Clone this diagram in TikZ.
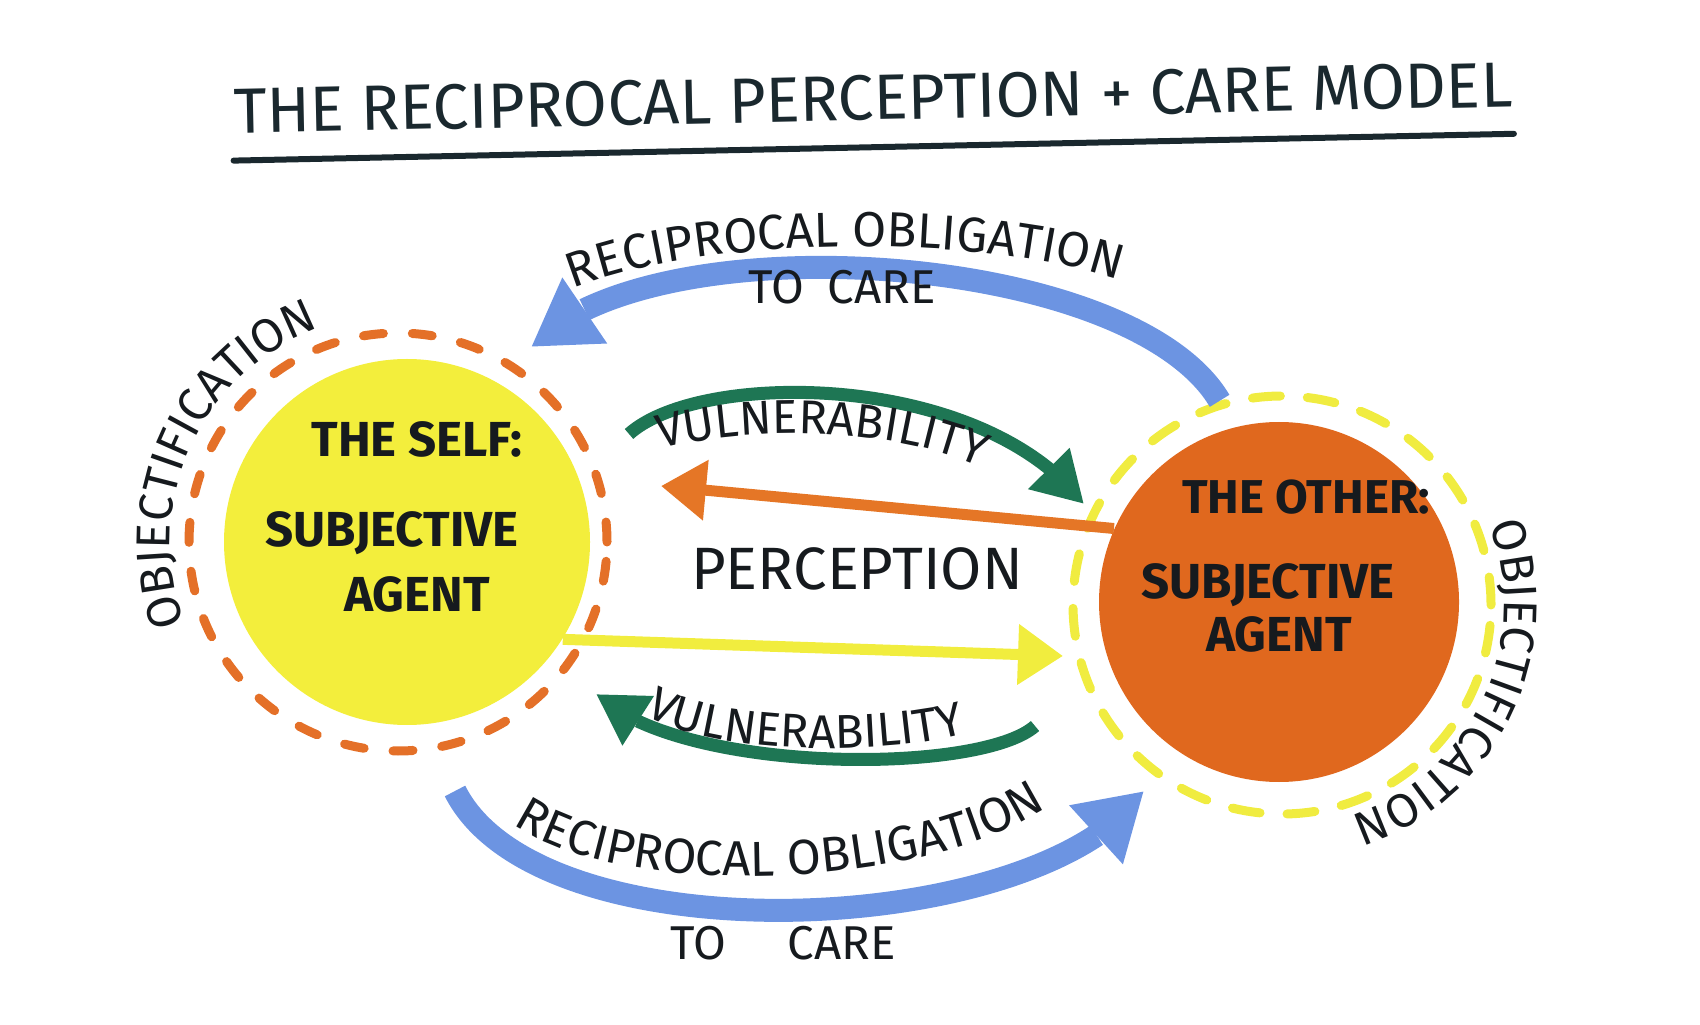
\documentclass[tikz,border=0pt]{standalone}
\usepackage{fontspec}
\setmainfont{Fira Sans}
\usepackage{tikz}
\usetikzlibrary{arrows.meta,bending,decorations.text,positioning}

\definecolor{selfyellow}{RGB}{243,238,60}
\definecolor{otherorange}{RGB}{224,104,30}
\definecolor{ringorange}{RGB}{228,112,40}
\definecolor{ringyellow}{RGB}{240,236,64}
\definecolor{careblue}{RGB}{108,148,226}
\definecolor{vulngreen}{RGB}{30,118,84}
\definecolor{seeorange}{RGB}{229,118,38}
\definecolor{seeyellow}{RGB}{241,237,62}
\definecolor{ink}{RGB}{22,26,30}
\definecolor{titleink}{RGB}{26,40,46}

\newcommand{\curvefont}{\fontsize{14pt}{16pt}\selectfont\color{ink}}
\newcommand{\vulnfont}{\fontsize{13.5pt}{16pt}\selectfont\color{ink}}
\newcommand{\objfont}{\fontsize{13.5pt}{15pt}\selectfont\color{ink}}

\begin{document}
\begin{tikzpicture}[
    x=0.1mm, y=-0.1mm,
    agentdisc/.style={
        circle,
        inner sep=0pt,
        minimum size=36.6mm
    },
    agentring/.style={
        circle,
        inner sep=0pt,
        minimum size=41.8mm,
        line width=0.9mm,
        line cap=round
    },
    agentlabel/.style={text=ink, font=\fontsize{14pt}{16pt}\selectfont\bfseries},
    handlabel/.style={text=ink, font=\fontsize{13.5pt}{16pt}\selectfont},
    careflow/.style={draw=careblue, line width=2.3mm, -{Triangle[length=6.5mm, width=7.5mm]}},
    vulnflow/.style={draw=vulngreen, line width=1.3mm, -{Triangle[length=5mm, width=5.5mm]}},
    seeflow/.style={line width=1.1mm, -{Triangle[length=4.5mm, width=5.8mm]}}
]
\useasboundingbox (0,0) rectangle (1700,1025);

% Title
\node[font=\fontsize{18.2pt}{21pt}\selectfont, text=titleink, rotate=1.2, inner xsep=0pt] (title) at (873,98)
    {THE RECIPROCAL PERCEPTION + CARE MODEL};
\draw[titleink, line width=0.6mm, line cap=round]
    ([shift={(0,14)}]title.south west) -- ([shift={(0,14)}]title.south east);

% Agents
\node[agentdisc, fill=selfyellow] (self) at (407,542) {};
\node[agentdisc, fill=otherorange, minimum size=36mm] (other) at (1279,602) {};
\node[agentring, draw=ringorange, dash pattern=on 2mm off 2.9mm] (selfring) at (398,542) {};
\node[agentring, draw=ringyellow, dash pattern=on 2.8mm off 2.7mm] (otherring) at (1282,605) {};

\node[agentlabel] (selfname) at (417,439) {THE SELF:};
\node[agentlabel] (selfsubj) at (392,533) {SUBJECTIVE};
\node[agentlabel] (selfagent) at (417,594) {AGENT};
\node[agentlabel, font=\fontsize{13.5pt}{16pt}\selectfont\bfseries] (othername) at (1306,497) {THE OTHER:};
\node[agentlabel] (othersubj) at (1268,585) {SUBJECTIVE};
\node[agentlabel] (otheragent) at (1279,634) {AGENT};

% Objectification
\path[decorate, decoration={text along path, text align=center, text={|\objfont|OBJECTIFICATION}}]
    (selfring.center) ++(234:22.8mm) arc[start angle=234, end angle=77, radius=22.8mm];
\path[decorate, decoration={text along path, text align=center, text={|\objfont|OBJECTIFICATION}}]
    (otherring.center) ++(52:22.2mm) arc[start angle=52, end angle=-103, radius=22.2mm];

% Free ends
\coordinate (caretoptip) at (531,347);
\coordinate (carebotstart) at (455,791);
\coordinate (carebottip) at (1144,791);
\coordinate (vulntopstart) at (629,434);
\coordinate (vulntoptip) at (1084,504);
\coordinate (vulnbotstart) at (1035,726);
\coordinate (vulnbottip) at (596,694);
\coordinate (seeselftip) at (661,486);
\coordinate (seeothertip) at (1063,656);

% Care
\draw[careflow] (otherring.107) .. controls (1130,250) and (650,220) .. (caretoptip);
\draw[careflow] (carebotstart) .. controls (540,960) and (1040,940) .. (carebottip);
\path[decorate, decoration={text along path, text align=center, text={|\curvefont|RECIPROCAL OBLIGATION}}]
    (556,296) .. controls (690,232) and (1002,232) .. (1136,286);
\node[handlabel] (caretoplabel) at (842,287) {TO\enspace CARE};
\path[decorate, decoration={text along path, text align=center, text={|\curvefont|RECIPROCAL OBLIGATION}}]
    (505,818) .. controls (615,905) and (935,890) .. (1055,802);
\node[handlabel] (carebotlabel) at (783,943) {TO\hspace{1.3em}CARE};

% Vulnerability
\draw[vulnflow] (vulntopstart) .. controls (700,370) and (980,370) .. (vulntoptip);
\path[decorate, decoration={text along path, text align=center, text={|\vulnfont|VULNERABILITY}}]
    (650,452) .. controls (740,425) and (900,425) .. (990,472);
\draw[vulnflow] (vulnbotstart) .. controls (980,775) and (680,775) .. (vulnbottip);
\path[decorate, decoration={text along path, text align=center, text={|\vulnfont|VULNERABILITY}}]
    (650,718) .. controls (720,755) and (885,755) .. (960,735);

% Perception
\draw[seeflow, draw=seeorange] (other.156) -- (seeselftip);
\draw[seeflow, draw=seeyellow] (self.-32) -- (seeothertip);
\node[text=ink, font=\fontsize{17pt}{20pt}\selectfont] (perception) at (857,569) {PERCEPTION};

\end{tikzpicture}
\end{document}
